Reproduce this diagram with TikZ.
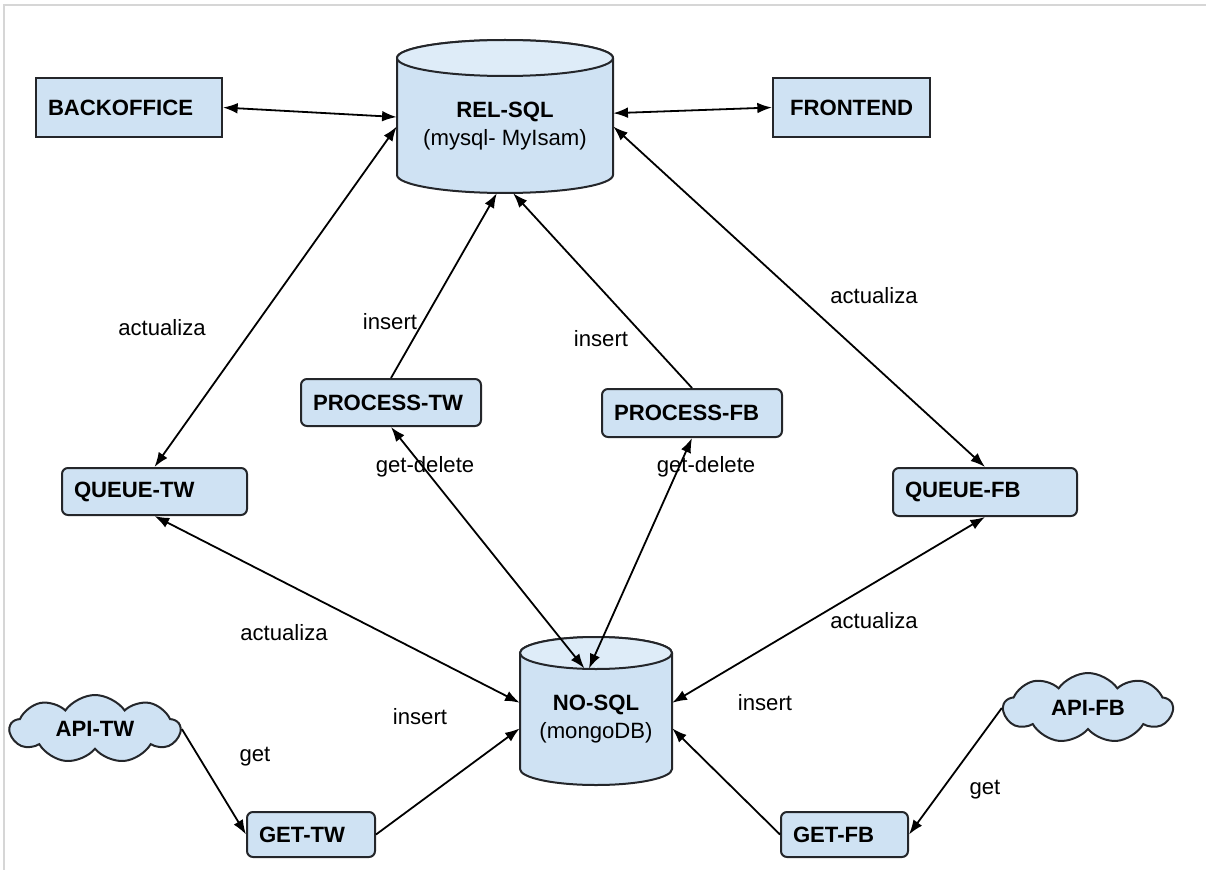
\documentclass[tikz,border=0pt]{standalone}
\usepackage{fontspec}
\setmainfont{Liberation Sans}
\usepackage{xcolor}
\usetikzlibrary{arrows.meta,shapes.symbols}

\definecolor{boxfill}{RGB}{207,226,243}
\definecolor{capfill}{RGB}{222,236,248}
\definecolor{boxline}{RGB}{36,38,42}
\definecolor{framegray}{RGB}{214,214,214}

\begin{document}
\begin{tikzpicture}[x=0.75pt,y=0.75pt,yscale=-1,xscale=1,
  every node/.style={font=\fontsize{16.6}{21}\selectfont},
  plainbox/.style={draw=boxline,fill=boxfill,line width=1.5pt,inner xsep=9pt,inner ysep=0pt,align=left,
    font=\fontsize{16.6}{21}\selectfont\bfseries},
  roundbox/.style={plainbox,rounded corners=4.5pt},
  cloudbox/.style={cloud,cloud puffs=9,cloud puff arc=110,cloud ignores aspect,inner sep=2pt,
    draw=boxline,fill=boxfill,line width=1.5pt,font=\fontsize{16.6}{21}\selectfont\bfseries},
  can/.style={draw=boxline,fill=boxfill,line width=1.5pt},
  dbtext/.style={inner sep=0pt,align=center},
  link/.style={line width=1.35pt,-{Latex[length=11pt,width=8pt]}},
  duallink/.style={line width=1.35pt,{Latex[length=11pt,width=8pt]}-{Latex[length=11pt,width=8pt]}},
  lbl/.style={inner sep=1pt}]
\useasboundingbox (0,0) rectangle (1206,870);

%Straight Lines [frame]
\draw [framegray,line width=1.5pt] (4,870) -- (4,5) -- (1206,5) ;

%Shape: Can [REL-SQL]
\draw [can] (397,58) -- (397,175) arc[start angle=180,end angle=0,x radius=108,y radius=18] -- (613,58) arc[start angle=0,end angle=-180,x radius=108,y radius=18] -- cycle ;
\draw [can,fill=capfill] (505,58) ellipse [x radius=108,y radius=18] ;
%Shape: Can [NO-SQL]
\draw [can] (520,653) -- (520,769) arc[start angle=180,end angle=0,x radius=76,y radius=16] -- (672,653) arc[start angle=0,end angle=-180,x radius=76,y radius=16] -- cycle ;
\draw [can,fill=capfill] (596,653) ellipse [x radius=76,y radius=16] ;

% Text Node
\node (relsql) [dbtext,minimum width=162pt,minimum height=99.75pt] at (505,126.5) {{\bfseries REL-SQL}\\(mysql- MyIsam)};
% Text Node
\node (nosql) [dbtext,minimum width=114pt,minimum height=99pt] at (596,719) {{\bfseries NO-SQL}\\(mongoDB)};

%Shape: Rectangle
\node (backoffice) [plainbox,text width=121.5pt,minimum height=44.25pt] at (129,107.5) {BACKOFFICE};
%Shape: Rectangle
\node (frontend) [plainbox,align=center,text width=99.75pt,minimum height=44.25pt] at (851.5,107.5) {FRONTEND};
%Shape: Rounded Rectangle
\node (queuetw) [roundbox,text width=120.75pt,minimum height=35.25pt] at (154.5,491.5) {QUEUE-TW};
%Shape: Rounded Rectangle
\node (queuefb) [roundbox,text width=120pt,minimum height=36pt] at (985,492) {QUEUE-FB};
%Shape: Rounded Rectangle
\node (proctw) [roundbox,text width=117pt,minimum height=35.25pt] at (391,402.5) {PROCESS-TW};
%Shape: Rounded Rectangle
\node (procfb) [roundbox,text width=117pt,minimum height=36pt] at (692,413) {PROCESS-FB};
%Shape: Rounded Rectangle
\node (gettw) [roundbox,text width=78pt,minimum height=33.75pt] at (311,834.5) {GET-TW};
%Shape: Rounded Rectangle
\node (getfb) [roundbox,text width=77.25pt,minimum height=33.75pt] at (844.5,834.5) {GET-FB};
%Shape: Cloud
\node (apitw) [cloudbox,minimum width=127.5pt,minimum height=51pt] at (95,729) {API-TW};
%Shape: Cloud
\node (apifb) [cloudbox,minimum width=126.75pt,minimum height=52.5pt] at (1088,708) {API-FB};

%Straight Lines
\draw [duallink] (backoffice.east) -- (relsql.175) ;
\draw [duallink] (frontend.west) -- (relsql.7) ;
\draw [duallink] (relsql.west) -- (queuetw.north) ;
\draw [duallink] (relsql.east) -- (queuefb.north) ;
\draw [link] (proctw.north) -- (relsql.263) ;
\draw [link] (procfb.north) -- (relsql.277) ;
\draw [duallink,shorten >=-15pt] (proctw.south) -- (nosql.110) ;
\draw [duallink,shorten >=-13pt] (procfb.south) -- (nosql.north) ;
\draw [duallink] (queuetw.south) -- (nosql.168) ;
\draw [duallink] (queuefb.south) -- (nosql.12) ;
\draw [link] (apitw.east) -- (gettw.west) ;
\draw [link] (gettw.east) -- (nosql.187) ;
\draw [link] (apifb.west) -- (getfb.east) ;
\draw [link] (getfb.west) -- (nosql.353) ;

% Text Node
\node (updtwtop) [lbl] at (162,328) {actualiza};
% Text Node
\node (updfbtop) [lbl] at (874,296) {actualiza};
% Text Node
\node (instwtop) [lbl] at (390,322) {insert};
% Text Node
\node (insfbtop) [lbl] at (601,339) {insert};
% Text Node
\node (deltw) [lbl] at (425,467) {get-delete};
% Text Node
\node (delfb) [lbl] at (706,467) {get-delete};
% Text Node
\node (updtwlow) [lbl] at (284,633) {actualiza};
% Text Node
\node (updfblow) [lbl] at (874,621) {actualiza};
% Text Node
\node (gettwlbl) [lbl] at (255,757) {get};
% Text Node
\node (instwlow) [lbl] at (420,717) {insert};
% Text Node
\node (insfblow) [lbl] at (765,703) {insert};
% Text Node
\node (getfblbl) [lbl] at (985,790) {get};

\end{tikzpicture}
\end{document}
